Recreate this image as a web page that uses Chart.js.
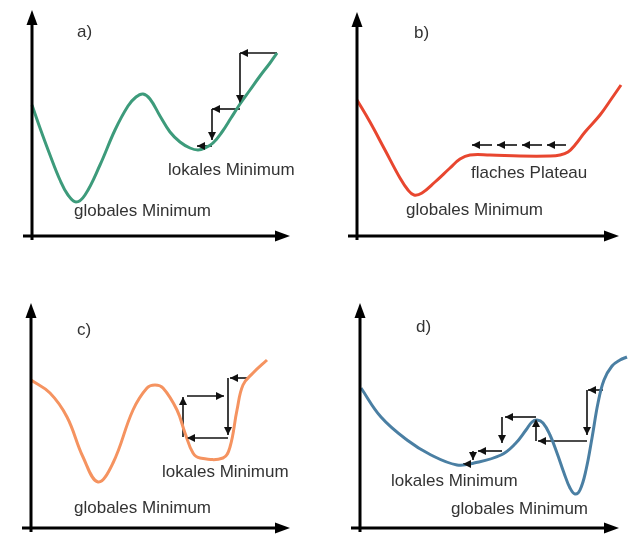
<!DOCTYPE html>
<html>
<head>
<meta charset="utf-8">
<script src="https://cdn.jsdelivr.net/npm/chart.js@4/dist/chart.umd.min.js"></script>
<style>
  body { margin: 0; background: #fff; }
  #wrap { position: relative; width: 628px; height: 539px; }
  #wrap canvas { position: absolute; }
</style>
</head>
<body>
<div id="wrap">
  <canvas id="ca"></canvas>
  <canvas id="cb"></canvas>
  <canvas id="cc"></canvas>
  <canvas id="cd"></canvas>
</div>
<script>
// curves, x/y in units from each panel's origin
const curveA = [[0,131],[8,108],[18,81],[28,56],[36,41],[44,34],[53,41],[68,71],[83,106],[96,130],[104,139],[111,142],[118,137],[128,120],[138,104],[148,94],[158,88],[166,86],[173,88],[181,93],[190,104],[199,118],[208,132],[218,146],[228,160],[238,173],[245,183]];
const curveB = [[0,136],[13,114],[28,86],[43,58],[51,46],[57,41],[65,43],[78,54],[93,68],[103,77],[113,81],[133,81],[163,80],[193,80],[203,81],[211,84],[218,91],[228,104],[243,121],[255,138],[264,151]];
const curveC = [[0,148],[19,135],[36,111],[52,71],[67,46],[82,65],[102,118],[116,140],[124,143],[132,140],[146,118],[154,95],[162,75],[169,70],[192,70],[199,81],[206,118],[212,143],[222,155],[236,168]];
const curveD = [[1,140],[21,111],[47,88],[71,73],[97,63],[114,65],[141,73],[155,84],[166,98],[172,106],[177,108],[183,105],[190,93],[197,75],[204,55],[210,40],[215,34],[220,38],[226,58],[232,90],[238,125],[244,148],[252,162],[260,168],[267,171]];

// step arrows [x1, y1, x2, y2], head at the second point
const arrowsA = [[245,183,208,183],[208,183,208,133],[208,127,180,127],[180,127,180,96],[180,90,165,90]];
const arrowsB = [[135,91,115,91],[160,91,140,91],[185,91,165,91],[209,91,190,91]];
const arrowsC = [[217,150,199,150],[197,150,197,93],[197,90,156,90],[152,91,152,131],[156,132,193,132]];
const arrowsD = [[243,138,228,138],[227,138,227,93],[227,87,178,87],[176,87,176,109],[176,111,145,111],[142,111,142,85],[142,77,118,77],[113,77,113,68],[113,64,103,64]];

const labelsA = [['a)',45,204],['lokales Minimum',136,66],['globales Minimum',42,25]];
const labelsB = [['b)',57,203],['flaches Plateau',114,63],['globales Minimum',49,26]];
const labelsC = [['c)',46,198],['lokales Minimum',131,56],['globales Minimum',43,20]];
const labelsD = [['d)',56,201],['lokales Minimum',31,47],['globales Minimum',91,19]];

function head(ctx, x1, y1, x2, y2, len, hw) {
  const a = Math.atan2(y2 - y1, x2 - x1);
  ctx.beginPath();
  ctx.moveTo(x2, y2);
  ctx.lineTo(x2 - len * Math.cos(a) + hw * Math.sin(a), y2 - len * Math.sin(a) - hw * Math.cos(a));
  ctx.lineTo(x2 - len * Math.cos(a) - hw * Math.sin(a), y2 - len * Math.sin(a) + hw * Math.cos(a));
  ctx.closePath();
  ctx.fill();
}

const extras = {
  id: 'extras',
  afterDatasetsDraw(chart, args, opts) {
    const ctx = chart.ctx;
    const sx = chart.scales.x, sy = chart.scales.y;
    ctx.save();
    ctx.fillStyle = '#111';
    chart.data.datasets.forEach((ds, i) => {
      if (!ds.arrow) return;
      const p = chart.getDatasetMeta(i).data;
      head(ctx, p[0].x, p[0].y, p[1].x, p[1].y, 8, 4);
    });
    // axes with arrows
    const ox = sx.getPixelForValue(0), oy = sy.getPixelForValue(0);
    const xe = sx.getPixelForValue(opts.xlen), ye = sy.getPixelForValue(opts.ylen);
    ctx.strokeStyle = '#000';
    ctx.fillStyle = '#000';
    ctx.lineWidth = 3;
    ctx.beginPath();
    ctx.moveTo(sx.getPixelForValue(-9), oy);
    ctx.lineTo(xe - 10, oy);
    ctx.moveTo(ox, sy.getPixelForValue(-4));
    ctx.lineTo(ox, ye + 10);
    ctx.stroke();
    head(ctx, ox, oy, xe, oy, 15, 5.5);
    head(ctx, ox, oy, ox, ye, 15, 5.5);
    ctx.fillStyle = '#333';
    ctx.font = '17px "Liberation Sans", Arial, sans-serif';
    ctx.textBaseline = 'middle';
    opts.labels.forEach(l => ctx.fillText(l[0], sx.getPixelForValue(l[1]), sy.getPixelForValue(l[2])));
    ctx.restore();
  }
};

function panel(id, box, origin, axes, curve, color, arrows, labels) {
  const cv = document.getElementById(id);
  cv.width = box[2]; cv.height = box[3];
  cv.style.left = box[0] + 'px'; cv.style.top = box[1] + 'px';
  const pad = { left: origin[0] - box[0], top: 3, right: 1, bottom: box[1] + box[3] - origin[1] };
  const datasets = [{
    data: curve.map(p => ({ x: p[0], y: p[1] })),
    borderColor: color, borderWidth: 3, pointRadius: 0,
    tension: 0.4, clip: false
  }];
  arrows.forEach(a => datasets.push({
    data: [{ x: a[0], y: a[1] }, { x: a[2], y: a[3] }],
    borderColor: '#111', borderWidth: 1.6, pointRadius: 0, clip: false, arrow: true
  }));
  new Chart(cv, {
    type: 'line',
    data: { datasets },
    plugins: [extras],
    options: {
      responsive: false, animation: false,
      layout: { padding: pad },
      scales: {
        x: { type: 'linear', display: false, min: 0, max: box[2] - pad.left - pad.right },
        y: { type: 'linear', display: false, min: 0, max: box[3] - pad.top - pad.bottom }
      },
      plugins: {
        legend: { display: false }, tooltip: { enabled: false },
        extras: { xlen: axes[0], ylen: axes[1], labels: labels.map(l => l) }
      }
    }
  });
}

panel('ca', [0, 0, 314, 269], [32, 236], [258, 226], curveA, '#3d9b7b', arrowsA, labelsA);
panel('cb', [314, 0, 314, 269], [357, 236], [262, 224], curveB, '#e8462f', arrowsB, labelsB);
panel('cc', [0, 269, 314, 270], [31, 528], [259, 225], curveC, '#f59360', arrowsC, labelsC);
panel('cd', [314, 269, 314, 270], [360, 528], [259, 225], curveD, '#4a7fa3', arrowsD, labelsD);
</script>
</body>
</html>
